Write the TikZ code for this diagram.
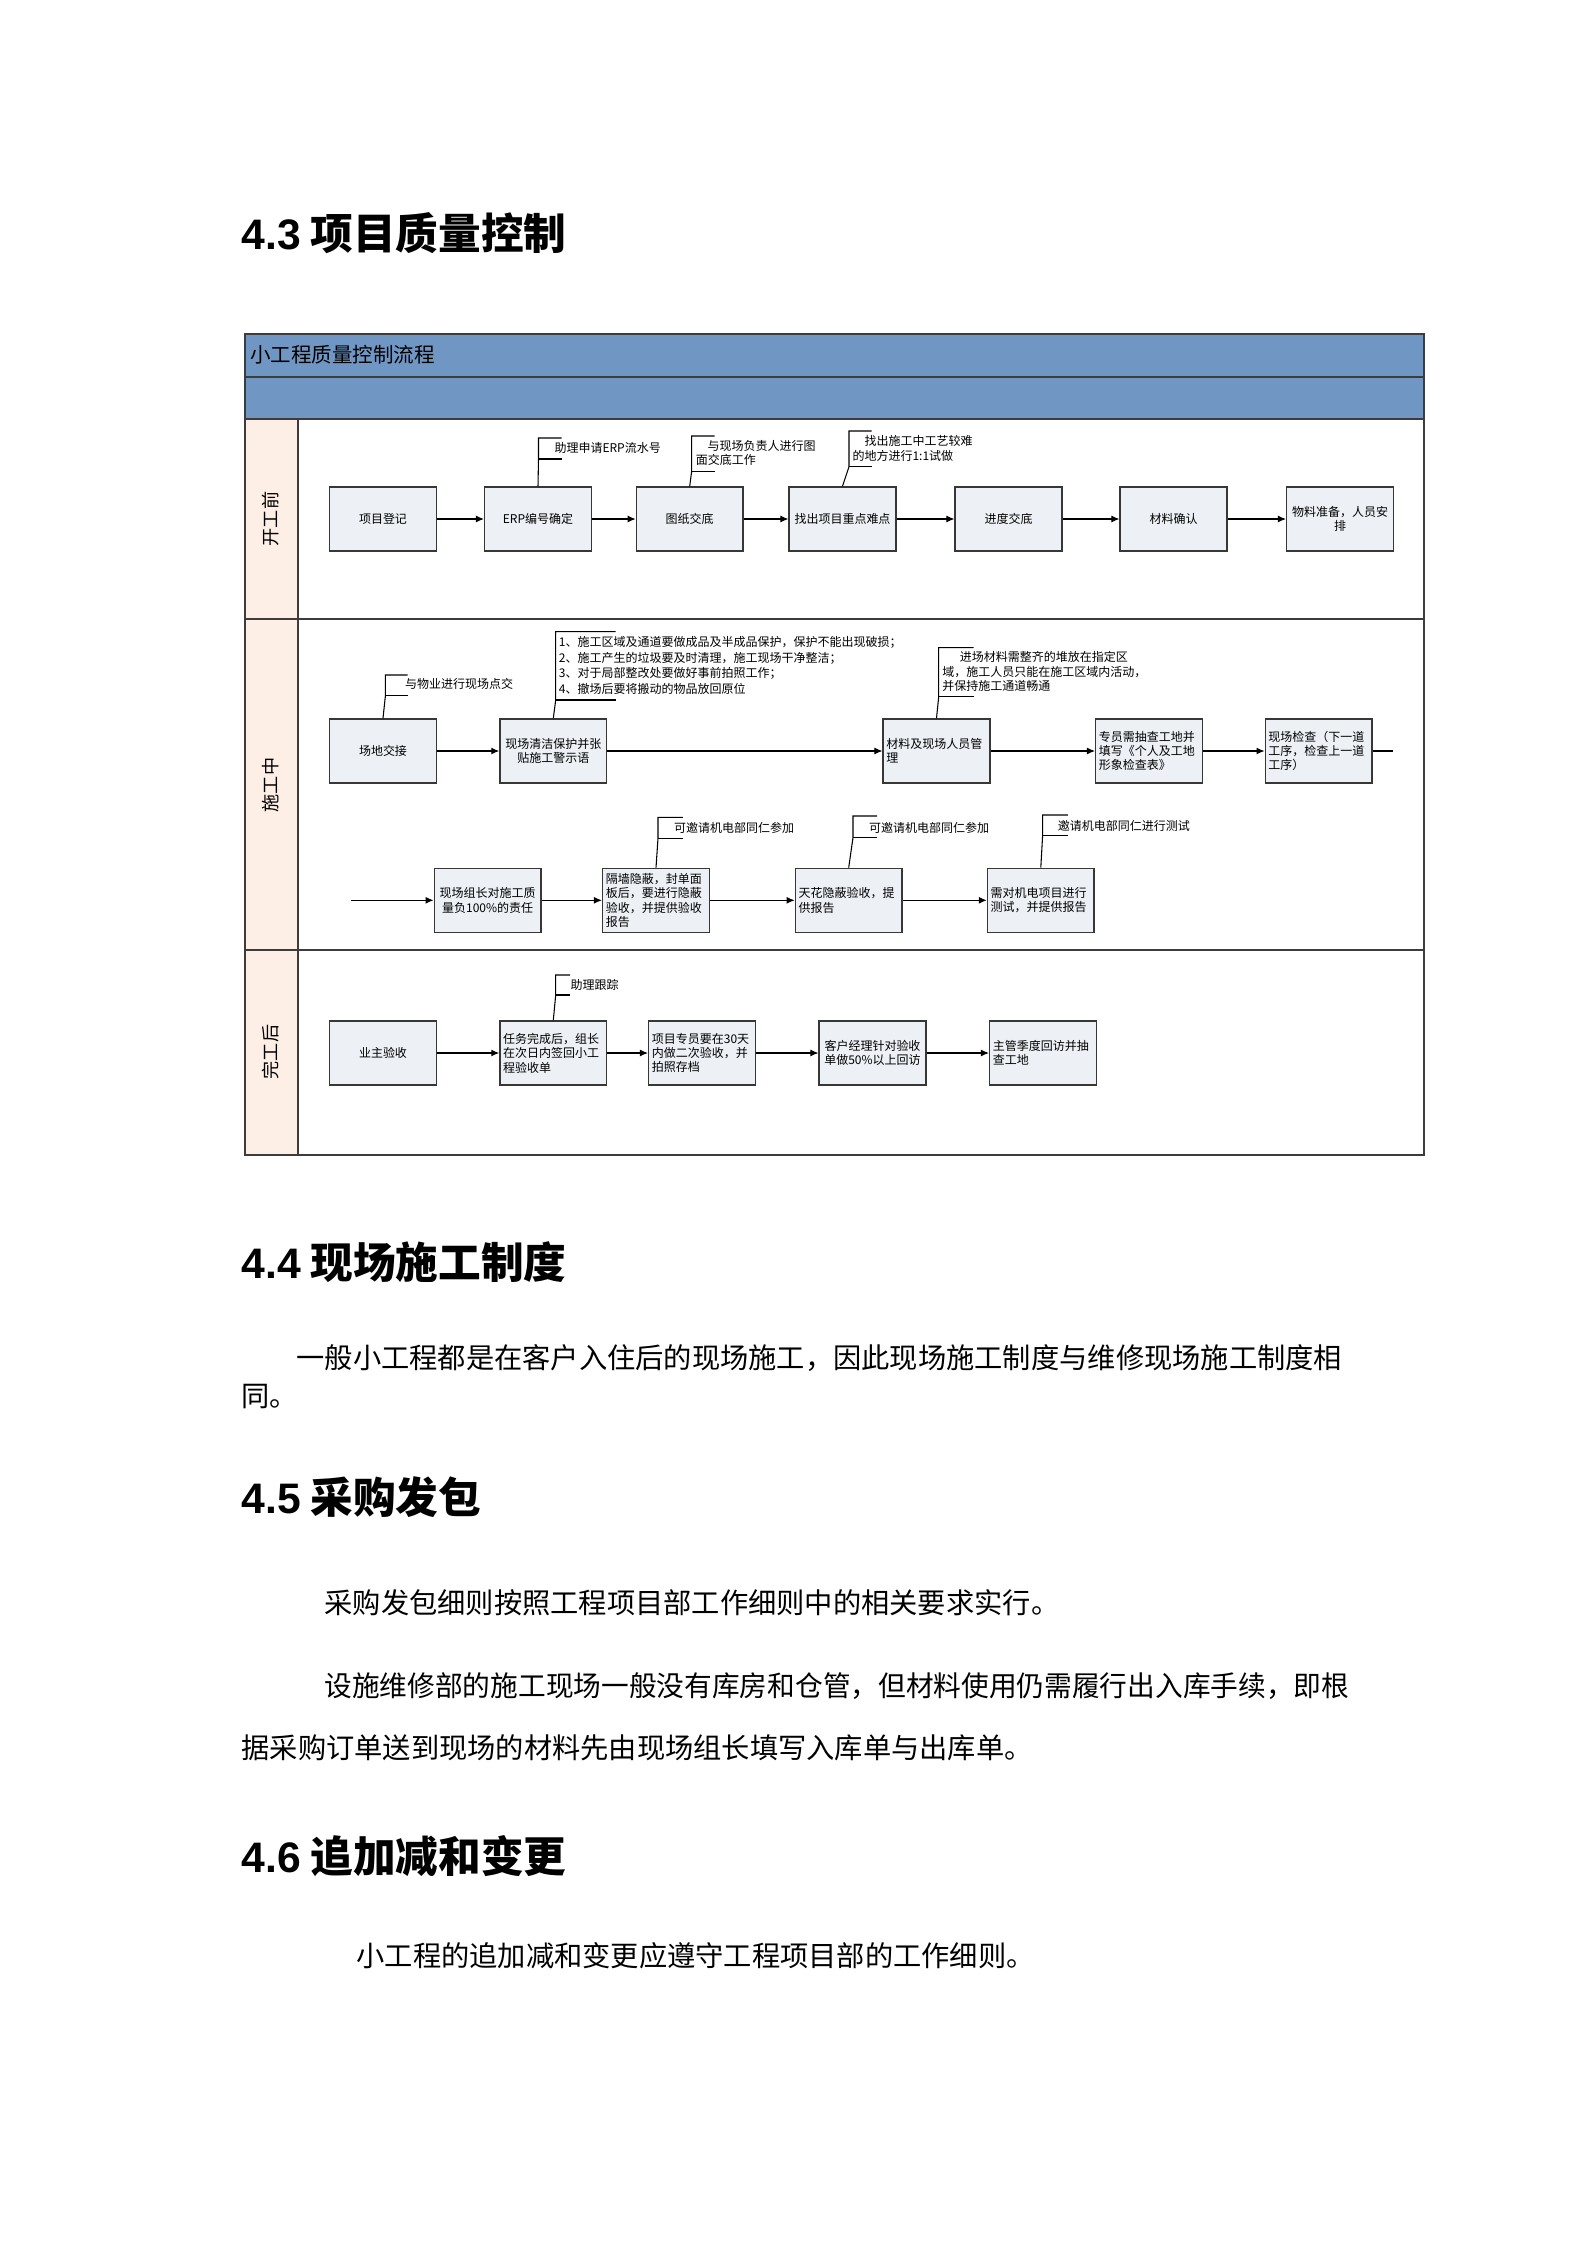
\documentclass[tikz,border=0pt]{standalone}
\usepackage{fontspec}
\setmainfont{Noto Sans CJK SC}
\newfontfamily\lib{Liberation Sans}
\usetikzlibrary{arrows.meta}
\definecolor{band}{RGB}{112,150,196}
\definecolor{lanefill}{RGB}{253,239,229}
\definecolor{boxfill}{RGB}{237,241,246}
\definecolor{boxline}{RGB}{55,55,55}
\definecolor{sepline}{RGB}{60,60,60}
\newcommand\bxfont{\fontsize{4.5pt}{5.4pt}\selectfont}
\newcommand\bodyfont{\fontsize{10.6pt}{12pt}\selectfont}
\newcommand\headfont{\fontsize{16pt}{18pt}\selectfont\bfseries}
\begin{document}
\begin{tikzpicture}[x=0.3751pt,y=-0.3751pt,
  box/.style={draw=boxline, fill=boxfill, line width=0.55pt, minimum width=40pt, minimum height=24pt, inner sep=1.2pt, text width=37.6pt, font=\bxfont},
  boxc/.style={box, align=center},
  boxl/.style={box, align=left},
  note/.style={anchor=west, inner sep=0pt, font=\bxfont},
  flow/.style={-{Latex[length=3pt,width=2.6pt]}, line width=0.4pt},
  plain/.style={line width=0.4pt},
  lead/.style={line width=0.4pt},
  sep/.style={draw=sepline, line width=0.6pt},
  lanelabel/.style={rotate=90, font=\fontsize{6.8pt}{7.5pt}\selectfont, inner sep=0pt},
  heading/.style={anchor=west, inner sep=0pt, font=\headfont},
  body/.style={anchor=west, inner sep=0pt, font=\bodyfont}
]
\useasboundingbox (0,0) rectangle (1587,2245);
\fill[white] (0,0) rectangle (1587,2245);

% ---------- headings and body text ----------
\node[heading] (h43) at (241,233) {{\lib 4.3} 项目质量控制};
\node[heading] (h44) at (241,1262) {{\lib 4.4} 现场施工制度};
\node[heading] (h45) at (241,1497) {{\lib 4.5} 采购发包};
\node[heading] (h46) at (241,1856) {{\lib 4.6} 追加减和变更};
\node[body] (t1) at (296,1358) {一般小工程都是在客户入住后的现场施工，因此现场施工制度与维修现场施工制度相};
\node[body] (t2) at (241,1397) {同。};
\node[body] (t3) at (324,1603) {采购发包细则按照工程项目部工作细则中的相关要求实行。};
\node[body, transform shape, xscale=0.98] (t4) at (324,1686) {设施维修部的施工现场一般没有库房和仓管，但材料使用仍需履行出入库手续，即根};
\node[body] (t5) at (241,1748) {据采购订单送到现场的材料先由现场组长填写入库单与出库单。};
\node[body] (t6) at (356,1956) {小工程的追加减和变更应遵守工程项目部的工作细则。};

% ---------- frame ----------
\fill[band] (245,334) rectangle (1424,419);
\fill[lanefill] (245,419) rectangle (298,1155);
\draw[sep] (245,377) -- (1424,377);
\draw[sep] (245,419) -- (1424,419);
\draw[sep] (245,619) -- (1424,619);
\draw[sep] (245,950) -- (1424,950);
\draw[sep] (298,419) -- (298,1155);
\draw[draw=sepline, line width=0.7pt] (245,334) rectangle (1424,1155);
\node[anchor=west, inner sep=0pt, font=\fontsize{7.7pt}{9pt}\selectfont] (title) at (249.5,355) {小工程质量控制流程};
\node[lanelabel] (l1) at (271,519) {开工前};
\node[lanelabel] (l2) at (271,785) {施工中};
\node[lanelabel] (l3) at (271,1052) {完工后};

% ---------- lane 1 ----------
\node[boxc] (a1) at (383,519) {项目登记};
\node[boxc] (a2) at (538,519) {ERP编号确定};
\node[boxc] (a3) at (689.7,519) {图纸交底};
\node[boxc] (a4) at (842.5,519) {找出项目重点难点};
\node[boxc] (a5) at (1008.5,519) {进度交底};
\node[boxc] (a6) at (1173.5,519) {材料确认};
\node[boxc] (a7) at (1340,519) {物料准备，人员安\\排};
\draw[flow] (a1) -- (a2);
\draw[flow] (a2) -- (a3);
\draw[flow] (a3) -- (a4);
\draw[flow] (a4) -- (a5);
\draw[flow] (a5) -- (a6);
\draw[flow] (a6) -- (a7);

\coordinate (n1b) at (538.5,459); \coordinate (n1t) at (538.5,438);
\draw[lead] (a2.north) -- (n1b) -- (n1t) -- ++(23,0);
\draw[lead] (n1b) -- ++(23,0);
\node[note] (n1) at (554,448) {助理申请ERP流水号};

\coordinate (n2b) at (691.6,471.7); \coordinate (n2t) at (691.6,436);
\draw[lead] (a3.north) -- (n2b) -- (n2t) -- ++(23,0);
\draw[lead] (n2b) -- ++(23,0);
\node[note] (n2a) at (707,446) {与现场负责人进行图};
\node[note] (n2c) at (695.4,460) {面交底工作};

\coordinate (n3b) at (849,466.7); \coordinate (n3t) at (849,431);
\draw[lead] (a4.north) -- (n3b) -- (n3t) -- ++(22.7,0);
\draw[lead] (n3b) -- ++(22.7,0);
\node[note] (n3a) at (864,441) {找出施工中工艺较难};
\node[note] (n3c) at (852,455.7) {的地方进行1:1试做};

% ---------- lane 2 upper ----------
\node[boxc] (b1) at (383,751) {场地交接};
\node[boxc] (b2) at (553.3,751) {现场清洁保护并张\\贴施工警示语};
\node[boxl] (b3) at (936.5,751) {材料及现场人员管\\理};
\node[boxl] (b4) at (1149,751) {专员需抽查工地并\\填写《个人及工地\\形象检查表》};
\node[boxl] (b5) at (1318.6,751) {现场检查（下一道\\工序，检查上一道\\工序）};
\draw[flow] (b1) -- (b2);
\draw[flow] (b2) -- (b3);
\draw[flow] (b3) -- (b4);
\draw[flow] (b4) -- (b5);
\coordinate (wrapR) at (1393,751);
\draw[plain] (b5.east) -- (wrapR);

\coordinate (m1b) at (385.4,695.7); \coordinate (m1t) at (385.4,675);
\draw[lead] (b1.north) -- (m1b) -- (m1t) -- ++(22.2,0);
\draw[lead] (m1b) -- ++(22.2,0);
\node[note] (m1) at (404.6,684.3) {与物业进行现场点交};

\coordinate (m2b) at (555.7,700); \coordinate (m2t) at (555.7,631.7);
\draw[lead] (b2.north) -- (m2b) -- (m2t) -- ++(60,0);
\draw[lead] (m2b) -- ++(60,0);
\node[note] (m2a) at (558.4,642.7) {1、施工区域及通道要做成品及半成品保护，保护不能出现破损；};
\node[note] (m2c) at (558.4,658.3) {2、施工产生的垃圾要及时清理，施工现场干净整洁；};
\node[note] (m2d) at (558.4,673.3) {3、对于局部整改处要做好事前拍照工作；};
\node[note] (m2e) at (558.4,689.3) {4、撤场后要将搬动的物品放回原位};

\coordinate (m3b) at (938.7,696.7); \coordinate (m3t) at (938.7,647.7);
\draw[lead] (b3.north) -- (m3b) -- (m3t) -- ++(35,0);
\draw[lead] (m3b) -- ++(35,0);
\node[note] (m3a) at (959.3,657.3) {进场材料需整齐的堆放在指定区};
\node[note] (m3c) at (941.8,672.3) {域，施工人员只能在施工区域内活动，};
\node[note] (m3d) at (941.8,686) {并保持施工通道畅通};

% ---------- lane 2 lower ----------
\node[boxc] (c1) at (487.6,900.3) {现场组长对施工质\\量负100\%的责任};
\node[boxl] (c2) at (656,900.3) {隔墙隐蔽，封单面\\板后，要进行隐蔽\\验收，并提供验收\\报告};
\node[boxl] (c3) at (848.7,900.3) {天花隐蔽验收，提\\供报告};
\node[boxl] (c4) at (1040.8,900.3) {需对机电项目进行\\测试，并提供报告};
\coordinate (wrapL) at (351,900.3);
\draw[flow] (wrapL) -- (c1.west);
\draw[flow] (c1) -- (c2);
\draw[flow] (c2) -- (c3);
\draw[flow] (c3) -- (c4);

\coordinate (k1b) at (658,838.3); \coordinate (k1t) at (658,817.3);
\draw[lead] (c2.north) -- (k1b) -- (k1t) -- ++(24.8,0);
\draw[lead] (k1b) -- ++(24.8,0);
\node[note] (k1) at (673.6,827.7) {可邀请机电部同仁参加};

\coordinate (k2b) at (853,837.7); \coordinate (k2t) at (853,816);
\draw[lead] (c3.north) -- (k2b) -- (k2t) -- ++(24.2,0);
\draw[lead] (k2b) -- ++(24.2,0);
\node[note] (k2) at (868.6,827.7) {可邀请机电部同仁参加};

\coordinate (k3b) at (1042.6,835.7); \coordinate (k3t) at (1042.6,815);
\draw[lead] (c4.north) -- (k3b) -- (k3t) -- ++(25.3,0);
\draw[lead] (k3b) -- ++(25.3,0);
\node[note] (k3) at (1057.4,825.7) {邀请机电部同仁进行测试};

% ---------- lane 3 ----------
\node[boxc] (d1) at (383,1053) {业主验收};
\node[boxl] (d2) at (553.3,1053) {任务完成后，组长\\在次日内签回小工\\程验收单};
\node[boxl] (d3) at (702,1053) {项目专员要在30天\\内做二次验收，并\\拍照存档};
\node[boxc] (d4) at (872.5,1053) {客户经理针对验收\\单做50\%以上回访};
\node[boxl] (d5) at (1043,1053) {主管季度回访并抽\\查工地};
\draw[flow] (d1) -- (d2);
\draw[flow] (d2) -- (d3);
\draw[flow] (d3) -- (d4);
\draw[flow] (d4) -- (d5);

\coordinate (j1b) at (555.7,995); \coordinate (j1t) at (555.7,975);
\draw[lead] (d2.north) -- (j1b) -- (j1t) -- ++(14.3,0);
\draw[lead] (j1b) -- ++(14.3,0);
\node[note] (j1) at (570,985) {助理跟踪};
\end{tikzpicture}
\end{document}
